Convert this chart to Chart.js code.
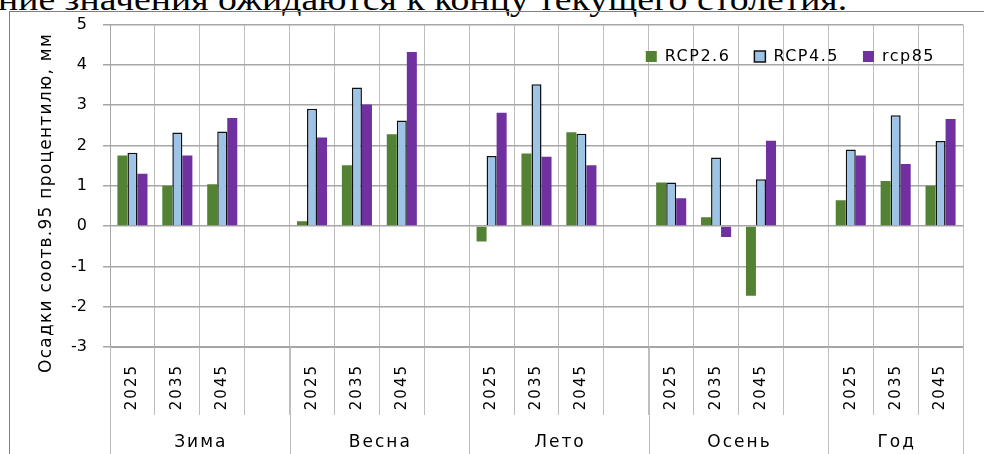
<!DOCTYPE html>
<html>
<head>
<meta charset="utf-8">
<script src="https://cdn.jsdelivr.net/npm/chart.js@4.4.1/dist/chart.umd.min.js"></script>
<style>
  body { margin: 0; width: 984px; height: 454px; overflow: hidden; background: #fff; position: relative; }
  #doctext { position: absolute; left: -2px; top: -17px; font: 32px/32px "Liberation Serif", serif; color: #000; white-space: nowrap; transform: scaleX(1.18); transform-origin: 0 0; }
  #frame { position: absolute; left: 9px; top: 11px; width: 975px; height: 443px; border-left: 1px solid #7f7f7f; border-top: 1px solid #7f7f7f; }
  #chart { position: absolute; left: 10px; top: -1px; }
</style>
</head>
<body>
<div id="doctext">ние значения ожидаются к концу текущего столетия.</div>
<div id="frame"></div>
<canvas id="chart" width="974" height="457"></canvas>
<script>
// seasons and years (x axis, two levels)
var groups = ['Зима', 'Весна', 'Лето', 'Осень', 'Год'];
var years = ['2025', '2035', '2045'];
var yTicks = [5, 4, 3, 2, 1, 0, -1, -2, -3];

// values per season: 2025, 2035, 2045
var rcp26 = [1.75, 1.00, 1.04,  0.12, 1.51, 2.28,  -0.38, 1.80, 2.33,  1.08, 0.22, -1.73,  0.64, 1.12, 1.00];
var rcp45 = [1.82, 2.32, 2.35,  2.91, 3.44, 2.62,  1.74, 3.52, 2.29,  1.08, 1.70, 1.16,  1.90, 2.75, 2.11];
var rcp85 = [1.30, 1.75, 2.68,  2.20, 3.02, 4.32,  2.81, 1.72, 1.51,  0.69, -0.27, 2.12,  1.75, 1.54, 2.66];

var yTitle = 'Осадки соотв.95 процентилю, мм';

// build categories with an empty column between seasons
var labels = [];
var groupStart = [];
function withGaps(vals) {
  var out = [];
  groups.forEach(function (g, gi) {
    years.forEach(function (y, yi) { out.push(vals[gi * years.length + yi]); });
    if (gi < groups.length - 1) out.push(null);
  });
  return out;
}
groups.forEach(function (g, gi) {
  groupStart.push(labels.length);
  years.forEach(function (y) { labels.push(y); });
  if (gi < groups.length - 1) labels.push('');
});

var gridCol = '#a6a6a6';
var vGridCol = '#bdbdbd';

// run a method with wider letter spacing (the scan is stretched sideways)
function spaced(obj, name, sp) {
  var orig = obj[name];
  obj[name] = function () {
    var c = this.ctx;
    c.save();
    c.letterSpacing = sp;
    var r = orig.apply(this, arguments);
    c.restore();
    return r;
  };
}

var decor = {
  id: 'decor',
  afterInit: function (chart) {
    // legend floats inside the plot, takes no layout space
    var lg = chart.legend;
    spaced(lg, 'fit', '1.5px');
    spaced(lg, 'draw', '1.5px');
    var fit = lg.fit;
    lg.fit = function () { fit.call(this); this.height = 0; };
  },
  afterLayout: function (chart) {
    var lg = chart.legend;
    lg.top = chart.chartArea.top;
    lg.bottom = lg.top + 60;
    lg.height = 60;
    lg.right = chart.chartArea.right - 4;
    var sx = chart.scales.x;
    if (!sx._spaced) {
      spaced(sx, 'drawLabels', '2px');
      sx._spaced = true;
    }
  },
  afterDraw: function (chart) {
    var ctx = chart.ctx;
    var a = chart.chartArea;
    var w = (a.right - a.left) / labels.length;
    ctx.save();
    ctx.strokeStyle = vGridCol;
    ctx.lineWidth = 1;
    var bounds = groupStart.concat([labels.length]);
    bounds.forEach(function (b) {
      var x = Math.round(a.left + b * w) + 0.5;
      ctx.beginPath();
      ctx.moveTo(x, a.bottom);
      ctx.lineTo(x, chart.height);
      ctx.stroke();
    });
    ctx.fillStyle = '#000';
    ctx.font = '17px "DejaVu Sans"';
    ctx.letterSpacing = '2px';
    ctx.textAlign = 'center';
    ctx.textBaseline = 'middle';
    groups.forEach(function (g, gi) {
      var s = groupStart[gi];
      var e = gi < groups.length - 1 ? groupStart[gi + 1] : labels.length;
      ctx.fillText(g, a.left + (s + e) / 2 * w + 1, 444);
    });
    // y title stretched to the length seen in the scan
    ctx.translate(37, 204);
    ctx.rotate(-Math.PI / 2);
    ctx.font = '17px "DejaVu Sans"';
    ctx.letterSpacing = '0px';
    var tw = ctx.measureText(yTitle).width;
    ctx.letterSpacing = ((340 - tw) / yTitle.length).toFixed(2) + 'px';
    ctx.fillText(yTitle, 0, 0);
    ctx.restore();
  }
};

var chart = new Chart(document.getElementById('chart'), {
  type: 'bar',
  data: {
    labels: labels,
    datasets: [
      { label: 'RCP2.6', data: withGaps(rcp26), backgroundColor: '#548235', borderWidth: 0 },
      { label: 'RCP4.5', data: withGaps(rcp45), backgroundColor: '#9dc3e6', borderColor: '#111', borderWidth: 1.5 },
      { label: 'rcp85', data: withGaps(rcp85), backgroundColor: '#7030a0', borderWidth: 0 }
    ]
  },
  options: {
    responsive: false,
    animation: false,
    layout: { padding: { top: 0, right: 21, bottom: 0, left: 0 } },
    datasets: { bar: { categoryPercentage: 0.67, barPercentage: 1.0 } },
    plugins: {
      tooltip: { enabled: false },
      legend: {
        position: 'top',
        align: 'end',
        labels: {
          boxWidth: 11,
          boxHeight: 11,
          padding: 24,
          color: '#000',
          font: { family: 'DejaVu Sans', size: 16 }
        }
      }
    },
    scales: {
      x: {
        grid: { color: vGridCol, lineWidth: 1, tickLength: 68, offset: true },
        border: { color: gridCol, width: 1 },
        ticks: {
          autoSkip: false,
          minRotation: 90,
          maxRotation: 90,
          padding: -51,
          color: '#000',
          font: { family: 'DejaVu Sans', size: 15 }
        },
        afterFit: function (s) { s.height = 109; }
      },
      y: {
        min: -3,
        max: 5,
        afterBuildTicks: function (s) { s.ticks = yTicks.map(function (v) { return { value: v }; }); },
        grid: { color: gridCol, lineWidth: 1.5, tickLength: 7 },
        border: { color: gridCol, width: 1 },
        ticks: {
          padding: 16,
          color: '#000',
          font: { family: 'DejaVu Sans', size: 16 }
        },
        afterFit: function (s) { s.width = 100; }
      }
    }
  },
  plugins: [decor]
});
</script>
</body>
</html>
